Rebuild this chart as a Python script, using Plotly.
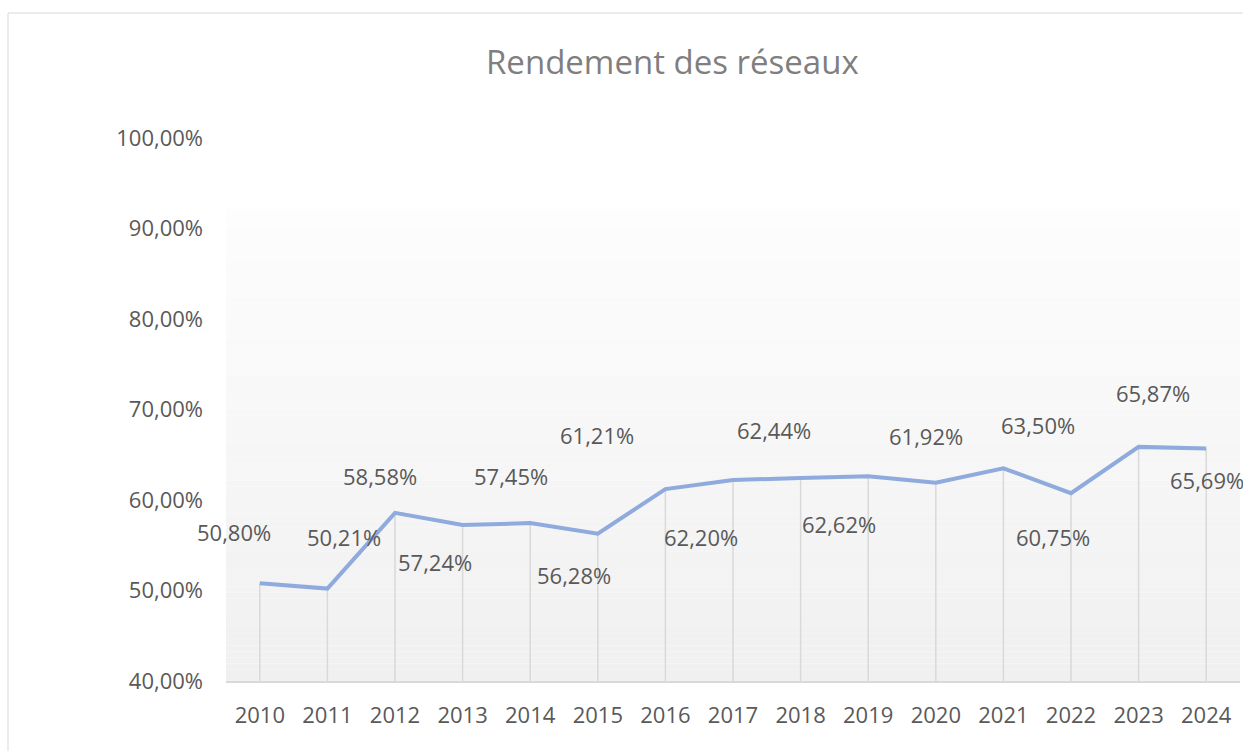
import plotly.graph_objects as go

# ---- data ----
years = ["2010", "2011", "2012", "2013", "2014", "2015", "2016", "2017",
         "2018", "2019", "2020", "2021", "2022", "2023", "2024"]
rendement = [50.80, 50.21, 58.58, 57.24, 57.45, 56.28, 61.21, 62.20,
             62.44, 62.62, 61.92, 63.50, 60.75, 65.87, 65.69]
title_text = "Rendement des réseaux"
y_min, y_max, y_step = 40, 100, 10

# label offsets (pixels, dx right, dy down) as placed in the original chart
label_dx = [-26, 17, -15, -28, -19, -24, -68, -32, -27, -29, -10, 35, -18, 14, 1]
label_dy = [-51, -52, -37, 37, -47, 41, -54, 57, -48, 48, -47, -43, 44, -54, 31]

# ---- geometry / styles ----
W, H = 1243, 751
PL, PR = 226, 1240      # plot area left/right (px)
PT, PB = 138, 681       # plot area top/bottom (px)
FONT = "Open Sans, Liberation Sans, sans-serif"
TXT = "#595959"
LINE = "#8FAADC"
GRID = "#D9D9D9"

fig = go.Figure()

# drop lines (from each point down to the axis)
fig.add_trace(go.Scatter(
    x=years, y=rendement, mode="markers",
    marker=dict(size=0.1, color="rgba(0,0,0,0)"),
    error_y=dict(type="data", symmetric=False,
                 array=[0] * len(rendement),
                 arrayminus=[v - y_min for v in rendement],
                 width=0, color=GRID, thickness=1.5),
    hoverinfo="skip", showlegend=False,
))

# main line
fig.add_trace(go.Scatter(
    x=years, y=rendement, mode="lines",
    line=dict(color=LINE, width=4),
    showlegend=False,
))

# data labels (category index used for x position)
for i, (v, dx, dy) in enumerate(zip(rendement, label_dx, label_dy)):
    fig.add_annotation(
        x=i, y=v, xref="x", yref="y",
        text=f"{v:.2f}".replace(".", ",") + "%",
        showarrow=False, xshift=dx, yshift=-dy,
        font=dict(family=FONT, size=22, color=TXT),
        xanchor="center", yanchor="middle",
    )

# gradient plot-area fill (white at top -> light grey at bottom)
grad_top = y_min + (PB - 209) / (PB - PT) * (y_max - y_min)
n_bands = 80
for i in range(n_bands):
    y0 = y_min + (grad_top - y_min) * i / n_bands
    y1 = y_min + (grad_top - y_min) * (i + 1) / n_bands
    t = (i + 0.5) / n_bands          # 0 bottom -> 1 top
    c = int(round(240 + (253 - 240) * t))
    fig.add_shape(type="rect", xref="paper", yref="y",
                  x0=0, x1=1, y0=y0, y1=y1,
                  fillcolor=f"rgb({c},{c},{c})", line=dict(width=0),
                  layer="below")

# chart-area border
pw, ph = PR - PL, PB - PT
fig.add_shape(type="rect", xref="paper", yref="paper",
              x0=(8 - PL) / pw, x1=1.2, y0=-0.3, y1=1 + (PT - 13) / ph,
              line=dict(color=GRID, width=1), fillcolor="rgba(0,0,0,0)",
              layer="below")

# title
fig.add_annotation(
    text=title_text, xref="paper", yref="paper",
    x=(672.5 - PL) / pw, y=1 + (PT - 62) / ph,
    showarrow=False, xanchor="center", yanchor="middle",
    font=dict(family=FONT, size=33, color="#7F7F7F"),
)

fig.update_layout(
    width=W, height=H,
    margin=dict(l=PL, r=W - PR, t=PT, b=H - PB, pad=0),
    paper_bgcolor="white", plot_bgcolor="white",
    separators=", ",
    font=dict(family=FONT, size=22, color=TXT),
    showlegend=False,
    xaxis=dict(
        type="category", range=[-0.5, len(years) - 0.5],
        showgrid=False, zeroline=False,
        showline=True, linecolor=GRID, linewidth=2,
        ticks="", ticklabelstandoff=14,
        tickfont=dict(family=FONT, size=22, color=TXT),
        fixedrange=True,
    ),
    yaxis=dict(
        range=[y_min, y_max], tick0=y_min, dtick=y_step,
        tickformat=".2f", ticksuffix="%",
        showgrid=False, zeroline=False, showline=False,
        ticks="", ticklabelstandoff=22,
        tickfont=dict(family=FONT, size=22, color=TXT),
        fixedrange=True,
    ),
)

fig.write_html(
    "out.html",
    config={"displayModeBar": False},
    post_script="document.body.style.margin='0';document.body.style.overflow='hidden';",
)
